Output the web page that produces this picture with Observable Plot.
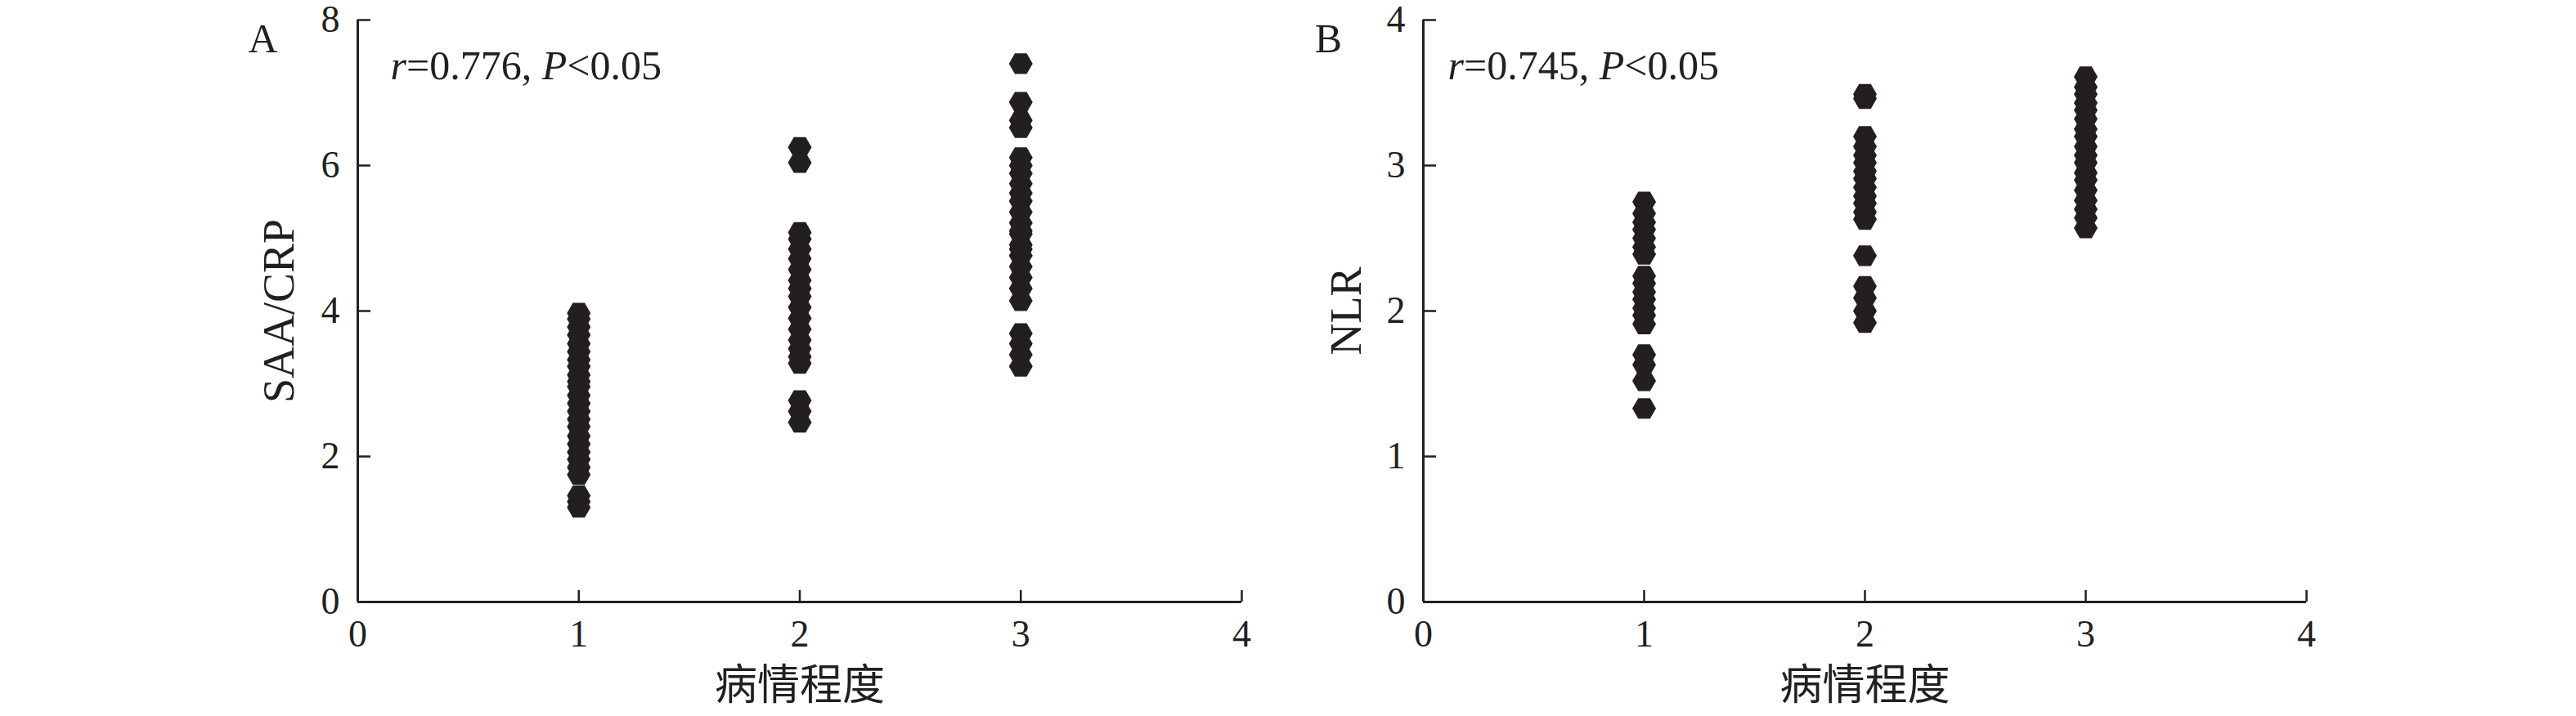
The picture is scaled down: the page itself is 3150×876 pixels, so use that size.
<!DOCTYPE html>
<html>
<head>
<meta charset="utf-8">
<script src="https://cdn.jsdelivr.net/npm/d3@7"></script>
<script src="https://cdn.jsdelivr.net/npm/@observablehq/plot@0.6"></script>
<style>
  html, body { margin: 0; padding: 0; background: #fff; }
  #wrap { display: flex; width: 3150px; height: 876px; background: #fff; }
</style>
</head>
<body>
<div id="wrap"></div>
<script>
// ---- data ----
const severity = [1, 2, 3];
const xTicks = [0, 1, 2, 3, 4];
const xTitle = "病情程度";

const yTicksA = [0, 2, 4, 6, 8];
const yLabelA = "SAA/CRP";
const saaCrp1 = [3.97, 3.89, 3.78, 3.67, 3.55, 3.44, 3.33, 3.24, 3.12, 3.03, 2.96, 2.84, 2.73, 2.62, 2.51, 2.41, 2.28, 2.17, 2.06, 1.96, 1.85, 1.75, 1.46, 1.38, 1.30];
const saaCrp2 = [6.25, 6.04, 5.08, 4.99, 4.85, 4.72, 4.57, 4.42, 4.31, 4.20, 4.05, 3.90, 3.75, 3.60, 3.48, 3.37, 3.28, 2.77, 2.62, 2.47];
const saaCrp3 = [7.40, 6.87, 6.62, 6.52, 6.11, 6.00, 5.89, 5.75, 5.62, 5.51, 5.36, 5.21, 5.10, 5.06, 4.91, 4.85, 4.76, 4.61, 4.46, 4.31, 4.14, 3.69, 3.55, 3.40, 3.24];
const annA = [["r", true], ["=0.776, ", false], ["P", true], ["<0.05", false]];

const yTicksB = [0, 1, 2, 3, 4];
const yLabelB = "NLR";
const nlr1 = [2.75, 2.67, 2.61, 2.56, 2.50, 2.44, 2.39, 2.24, 2.19, 2.13, 2.08, 2.02, 1.97, 1.91, 1.70, 1.63, 1.52, 1.33];
const nlr2 = [3.49, 3.46, 3.20, 3.13, 3.07, 3.02, 2.96, 2.91, 2.85, 2.79, 2.74, 2.68, 2.63, 2.38, 2.17, 2.09, 2.00, 1.92];
const nlr3 = [3.61, 3.54, 3.49, 3.43, 3.38, 3.32, 3.25, 3.20, 3.13, 3.07, 3.02, 2.95, 2.90, 2.83, 2.76, 2.70, 2.64, 2.57];
const annB = [["r", true], ["=0.745, ", false], ["P", true], ["<0.05", false]];

// ---- helpers ----
const INK = "#231f20";
const SERIF = "'Liberation Serif', 'Times New Roman', serif";
const CJK = "'Noto Sans CJK SC', sans-serif";

// flat-topped hexagon
const hexFlat = {
  draw(context, size) {
    const r = Math.sqrt(size / Math.PI);
    const h = r * Math.sqrt(3) / 2;
    context.moveTo(r, 0);
    context.lineTo(r / 2, h);
    context.lineTo(-r / 2, h);
    context.lineTo(-r, 0);
    context.lineTo(-r / 2, -h);
    context.lineTo(r / 2, -h);
    context.closePath();
  }
};

function rows(groups) {
  return groups.flatMap((vals, i) => vals.map(v => ({x: severity[i], y: v})));
}

function panel({groups, yTicks, yLabel, letter, ann, marginLeft, marginRight, yLabelDx, letterDx, annDx}) {
  const annText = ann.map(d => d[0]).join("");
  const yMax = yTicks[yTicks.length - 1];
  const svg = Plot.plot({
    width: 1575,
    height: 876,
    marginLeft,
    marginRight,
    marginTop: 24,
    marginBottom: 140,
    style: {fontFamily: SERIF, fontSize: "46px", color: INK, background: "white", overflow: "visible"},
    x: {domain: [0, 4]},
    y: {domain: [0, yMax]},
    marks: [
      Plot.axisX({ticks: xTicks, tickSize: 0, tickPadding: 22, label: null, fontSize: 46, tickFormat: d => String(d)}),
      Plot.axisY({ticks: yTicks, tickSize: 0, tickPadding: 22, label: null, fontSize: 46, tickFormat: d => String(d)}),
      Plot.ruleY([0], {stroke: INK, strokeWidth: 3}),
      Plot.ruleX([0], {stroke: INK, strokeWidth: 3}),
      Plot.ruleX(xTicks.slice(1), {x: d => d, y1: 0, y2: 0, insetBottom: 14, stroke: INK, strokeWidth: 2.5}),
      Plot.ruleY(yTicks.slice(1), {y: d => d, x1: 0, x2: 0, insetRight: -16, stroke: INK, strokeWidth: 2.5}),
      Plot.dot(rows(groups), {x: "x", y: "y", r: 14.5, symbol: hexFlat, fill: INK, stroke: "none"}),
      Plot.text([xTitle], {frameAnchor: "bottom", dy: 119, textAnchor: "middle", text: d => d, fontFamily: CJK, fontSize: 52, fill: INK}),
      Plot.text([yLabel], {frameAnchor: "left", dx: yLabelDx, rotate: -90, textAnchor: "middle", text: d => d, fontFamily: SERIF, fontSize: 54, fill: INK}),
      Plot.text([letter], {frameAnchor: "top-left", dx: letterDx, dy: 4, textAnchor: "middle", text: d => d, fontFamily: SERIF, fontSize: 50, fill: INK}),
      Plot.text([annText], {frameAnchor: "top-left", dx: annDx, dy: 37, textAnchor: "start", text: d => d, fontFamily: SERIF, fontSize: 50, fill: INK})
    ]
  });
  const ns = "http://www.w3.org/2000/svg";
  svg.querySelectorAll("text").forEach(t => {
    if (t.textContent === annText) {
      t.textContent = "";
      ann.forEach(([s, it]) => {
        const ts = document.createElementNS(ns, "tspan");
        ts.textContent = s;
        if (it) ts.setAttribute("font-style", "italic");
        t.appendChild(ts);
      });
    }
  });
  return svg;
}

const wrap = document.getElementById("wrap");
wrap.appendChild(panel({
  groups: [saaCrp1, saaCrp2, saaCrp3], yTicks: yTicksA, yLabel: yLabelA, letter: "A", ann: annA,
  marginLeft: 437, marginRight: 57, yLabelDx: -96, letterDx: -116, annDx: 40
}));
wrap.appendChild(panel({
  groups: [nlr1, nlr2, nlr3], yTicks: yTicksB, yLabel: yLabelB, letter: "B", ann: annB,
  marginLeft: 165, marginRight: 330, yLabelDx: -94, letterDx: -116, annDx: 30
}));
</script>
</body>
</html>
